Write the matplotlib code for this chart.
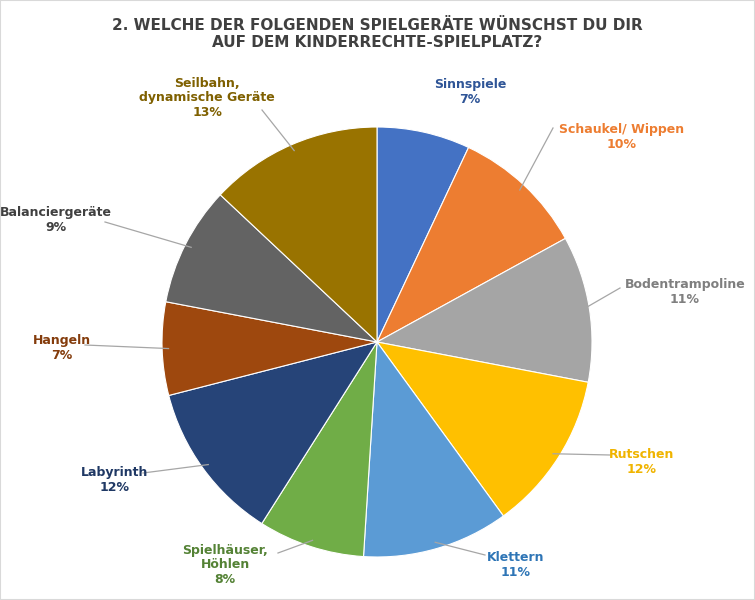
import numpy as np
import matplotlib.pyplot as plt

labels = ["Sinnspiele", "Schaukel/ Wippen", "Bodentrampoline", "Rutschen", "Klettern",
          "Spielhäuser,\nHöhlen", "Labyrinth", "Hangeln", "Balanciergeräte",
          "Seilbahn,\ndynamische Geräte"]
values = [7, 10, 11, 12, 11, 8, 12, 7, 9, 13]
colors = ["#4472C4", "#ED7D31", "#A5A5A5", "#FFC000", "#5B9BD5",
          "#70AD47", "#264478", "#9E480E", "#636363", "#997300"]
text_colors = ["#2F5597", "#ED7D31", "#7F7F7F", "#F0B400", "#2E75B6",
               "#548235", "#1F3864", "#843C0C", "#404040", "#7F6000"]
# label block centres in pixels (x, y from top)
label_pos = [(470, 92), (622, 137), (685, 292), (642, 462), (516, 565),
             (225, 565), (115, 480), (62, 348), (56, 220), (207, 98)]
line_end = [None, (553, 128), (620, 288), (610, 455), (485, 555), (278, 553),
            (143, 473), (85, 345), (105, 222), (262, 110)]

W, H = 755, 600
cx, cy, R = 377, H - 342, 215

fig = plt.figure(figsize=(7.55, 6.0), dpi=100)
ax = fig.add_axes([0, 0, 1, 1])
ax.pie(values, colors=colors, startangle=90, counterclock=False,
       center=(cx, cy), radius=R, wedgeprops=dict(edgecolor="white", linewidth=0.8),
       frame=True)
ax.set_xlim(0, W)
ax.set_ylim(0, H)
ax.set_aspect("equal")
ax.axis("off")

cum = np.cumsum([0] + values)
for i, lab in enumerate(labels):
    mid = 90 - 360 * (cum[i] + values[i] / 2) / sum(values)
    a = np.deg2rad(mid)
    if line_end[i] is not None:
        x0, y0 = cx + R * 0.97 * np.cos(a), cy + R * 0.97 * np.sin(a)
        ex, ey = line_end[i]
        ax.plot([x0, ex], [y0, H - ey], color="#A6A6A6", lw=0.9)
    lx, ly = label_pos[i]
    ax.text(lx, H - ly, f"{lab}\n{values[i]}%", ha="center", va="center",
            color=text_colors[i], fontsize=9, fontweight="bold", linespacing=1.15)

ax.text(W / 2, H - 34, "2. WELCHE DER FOLGENDEN SPIELGERÄTE WÜNSCHST DU DIR\nAUF DEM KINDERRECHTE-SPIELPLATZ?",
        ha="center", va="center", fontsize=11, fontweight="bold", color="#404040",
        linespacing=1.2)

fig.patches.append(plt.Rectangle((0, 0), 1, 1, transform=fig.transFigure,
                                 fill=False, edgecolor="#D9D9D9", lw=1.5))
fig.savefig("out.png", dpi=100)
